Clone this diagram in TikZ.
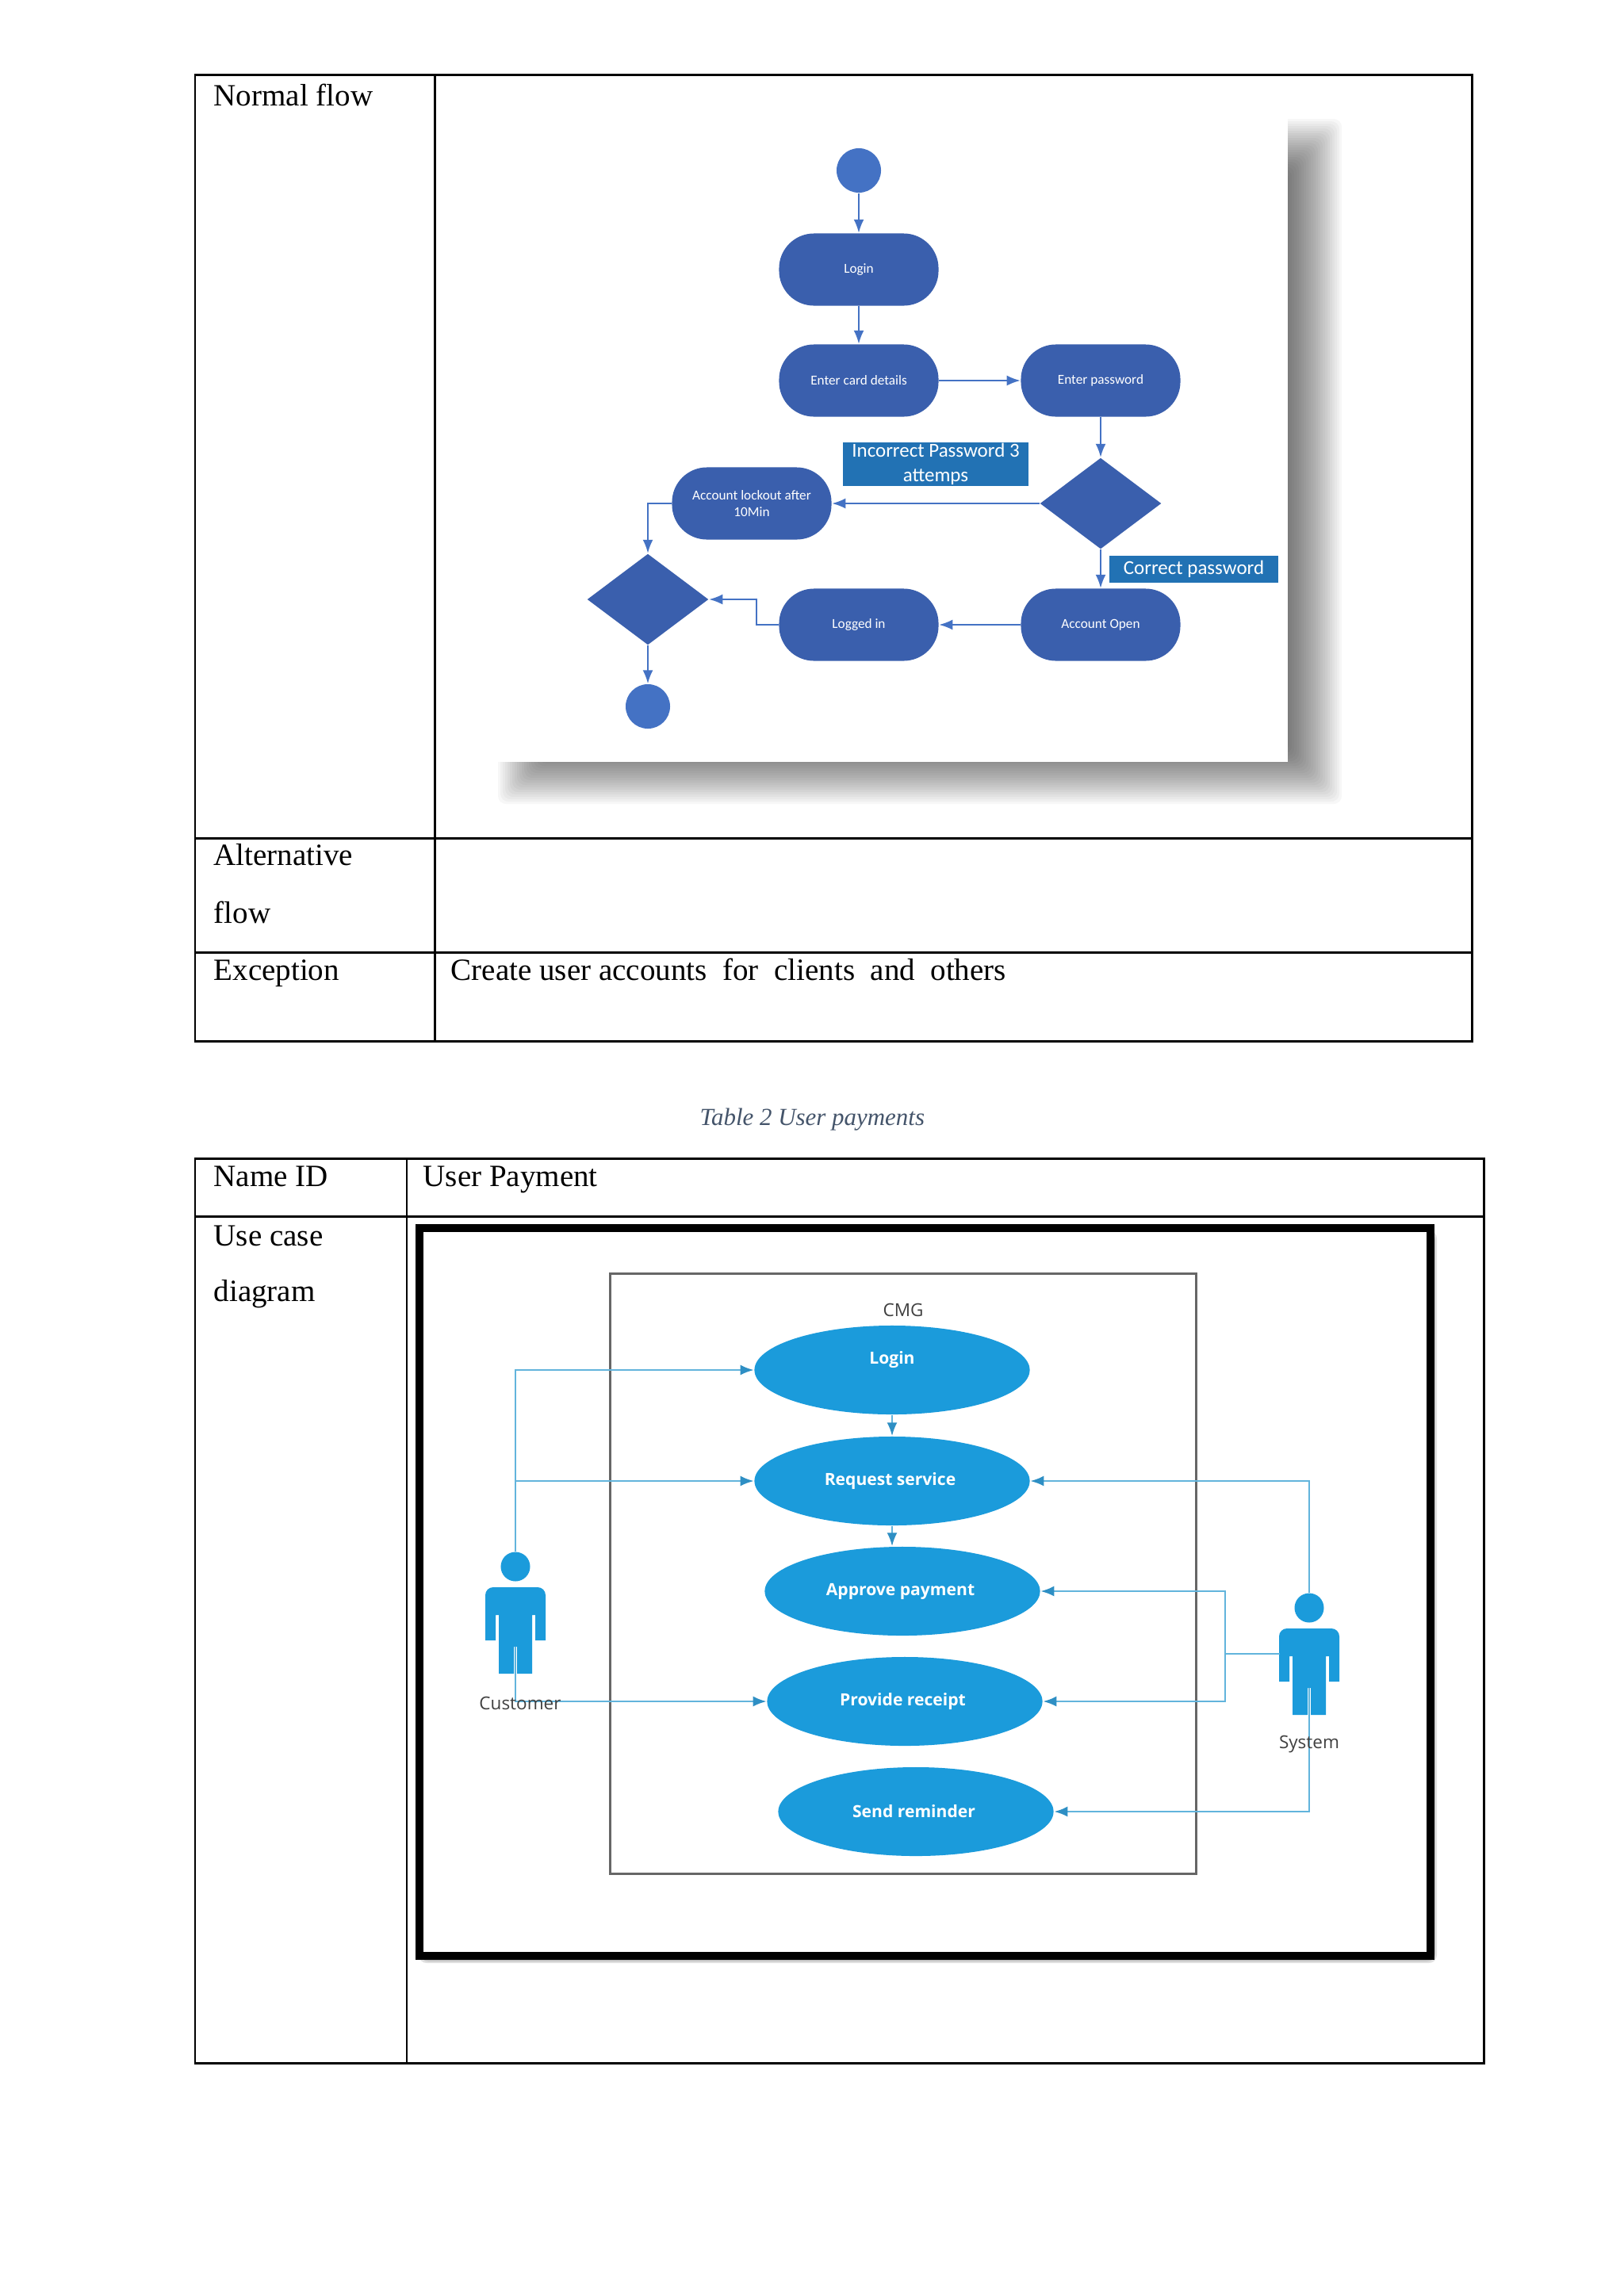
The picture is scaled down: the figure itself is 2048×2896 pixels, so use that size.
\documentclass[tikz,border=0pt]{standalone}
\usepackage{fontspec}
\setmainfont{Liberation Serif}
\newfontfamily\flowfont{Carlito}
\newfontfamily\casefont{Open Sans}
\usetikzlibrary{arrows.meta,shapes.geometric}
\definecolor{flowblue}{HTML}{3A5FAD}
\definecolor{startblue}{HTML}{4472C4}
\definecolor{tagblue}{HTML}{2272B4}
\definecolor{caseblue}{HTML}{1B9BDB}
\definecolor{caseline}{HTML}{62B4DC}
\definecolor{casetip}{HTML}{2E8FC4}
\definecolor{capgray}{HTML}{44546A}
\tikzset{
  tablerule/.style={line width=0.85pt, black},
  celltext/.style={anchor=base west, inner sep=0pt, font=\fontsize{11.1}{13}\selectfont},
  flowbox/.style={rectangle, rounded corners=0.44cm, fill=flowblue, minimum width=2.01cm, minimum height=0.91cm, inner sep=0pt, align=center, text=white, font=\flowfont\fontsize{4.9}{6.2}\selectfont},
  flowdec/.style={diamond, fill=flowblue, minimum width=1.53cm, minimum height=1.15cm, inner sep=0pt},
  flowdot/.style={circle, fill=startblue, minimum size=0.56cm, inner sep=0pt},
  flowtag/.style={rectangle, fill=tagblue, inner sep=0pt, align=center, text=white, font=\flowfont\fontsize{7.1}{8.9}\selectfont},
  flowarrow/.style={->, line width=0.6pt, startblue},
  usecase/.style={ellipse, fill=caseblue, minimum width=3.47cm, minimum height=1.12cm, inner sep=0pt, text=white, font=\casefont\bfseries\fontsize{6}{7.5}\selectfont},
  caseface/.style={circle, fill=caseblue, minimum size=0.37cm, inner sep=0pt},
  casearrow/.style={-{Latex[length=0.17cm,width=0.13cm,color=casetip]}, line width=0.7pt, caseline},
  casetext/.style={inner sep=0pt, text=black!75, font=\casefont\fontsize{6.4}{7.5}\selectfont},
}
% soft shadow: stacked rectangles, each one inset a little more
\newcommand{\softshadow}[7]{%
  \foreach \i in {0,...,#5}{
    \fill[black, opacity=#6, rounded corners=0.1cm] ({#1+#7*\i},{#2+#7*\i}) rectangle ({#3-#7*\i},{#4-#7*\i});
  }}
% actor figure below its head
\newcommand{\actorbody}[2]{%
  \begin{scope}[shift={(#1,#2)}]
    \fill[caseblue] (-38,20) [rounded corners=0.1cm] -- (-38,0) -- (38,0) -- (38,20) [sharp corners] -- (38,67) -- (25,67) -- (25,35) -- (21,35) -- (21,109) -- (2,109) -- (2,75) -- (-2,75) -- (-2,109) -- (-21,109) -- (-21,35) -- (-25,35) -- (-25,67) -- (-38,67) -- cycle;
  \end{scope}}
\begin{document}
\begin{tikzpicture}[x=0.01cm, y=-0.01cm, >={Latex[length=0.17cm,width=0.13cm]}]
\useasboundingbox (0,0) rectangle (2048,2896);

% first table
\draw[tablerule] (246,94) rectangle (1856,1313);
\draw[tablerule] (246,1057) -- (1856,1057);
\draw[tablerule] (246,1201) -- (1856,1201);
\draw[tablerule] (548,94) -- (548,1313);
\node[celltext] at (269,133) {Normal flow};
\node[celltext] at (269,1091) {Alternative};
\node[celltext] at (269,1164) {flow};
\node[celltext] at (269,1236) {Exception};
\node[celltext] at (568,1236) {Create user accounts~ for~ clients~ and~ others};

% activity picture
\softshadow{628}{150}{1692}{1014}{22}{0.032}{3}
\fill[white] (604,135) rectangle (1624,961);
\node[flowdot] (start) at (1083,215) {};
\node[flowbox] (login) at (1083,340) {Login};
\node[flowbox] (card) at (1083,480) {Enter card details};
\node[flowbox] (pass) at (1388,480) {Enter password};
\node[flowdec] (check) at (1388,635) {};
\node[flowbox] (lockout) at (948,635) {Account lockout after\\10Min};
\node[flowdec] (merge) at (817,756) {};
\node[flowbox] (logged) at (1083,788) {Logged in};
\node[flowbox] (open) at (1388,788) {Account Open};
\node[flowdot] (finish) at (817,891) {};
\node[flowtag, minimum width=2.34cm, minimum height=0.55cm] (wrongtag) at (1180,585.5) {Incorrect Password 3\\attemps};
\node[flowtag, minimum width=2.13cm, minimum height=0.34cm] (righttag) at (1505.5,718) {Correct password};
\draw[flowarrow] (start) -- (login);
\draw[flowarrow] (login) -- (card);
\draw[flowarrow] (card) -- (pass);
\draw[flowarrow] (pass) -- (check);
\draw[flowarrow] (check) -- (lockout);
\draw[flowarrow] (check) -- (open);
\draw[flowarrow] (open) -- (logged);
\draw[flowarrow] (lockout.west) -| (merge.north);
\draw[flowarrow] (logged.west) -- ++(-28,0) |- (merge.east);
\draw[flowarrow] (merge) -- (finish);

% second table
\node[inner sep=0pt, anchor=base west, text=capgray, font=\itshape\fontsize{8.8}{11}\selectfont] at (882,1419) {Table 2 User payments};
\draw[tablerule] (246,1461) rectangle (1871,2602);
\draw[tablerule] (246,1534) -- (1871,1534);
\draw[tablerule] (513,1461) -- (513,2602);
\node[celltext] at (269,1496) {Name ID};
\node[celltext] at (533,1496) {User Payment};
\node[celltext] at (269,1571) {Use case};
\node[celltext] at (269,1641) {diagram};

% use case picture
\softshadow{528}{1552}{1812}{2476}{3}{0.12}{2}
\draw[line width=0.1cm, black, fill=white] (529,1549) rectangle (1804,2467);
\draw[line width=0.85pt, black!60] (769,1606) rectangle (1508,2363);
\node[casetext] (cmg) at (1139,1652) {CMG};
\node[usecase] (ulogin) at (1125,1728) {\raisebox{0.32cm}{Login}};
\node[usecase] (request) at (1125,1868) {Request service\hspace*{0.05cm}};
\node[usecase] (approve) at (1138,2007) {Approve payment\hspace*{0.05cm}};
\node[usecase] (receipt) at (1141,2146) {Provide receipt\hspace*{0.05cm}};
\node[usecase] (remind) at (1155,2285) {Send reminder\hspace*{0.05cm}};
\actorbody{650}{2002}
\actorbody{1651}{2054}
\node[caseface] (custhead) at (650,1976) {};
\node[caseface] (syshead) at (1651,2028) {};
\coordinate (custfoot) at (650,2077);
\coordinate (sysfoot) at (1651,2129);
\coordinate (sysarm) at (1614,2086);
\draw[casearrow] (custhead.north) |- (ulogin.west);
\draw[casearrow] (custhead.north) |- (request.west);
\draw[casearrow] (custfoot) |- (receipt.west);
\draw[casearrow] (syshead.north) |- (request.east);
\draw[casearrow] (sysarm) -- ++(-69,0) |- (approve.east);
\draw[casearrow] (sysarm) -- ++(-69,0) |- (receipt.east);
\draw[casearrow] (sysfoot) |- (remind.east);
\draw[casearrow] (ulogin.south) -- (request.north);
\draw[casearrow] (request.south) -- (request.south |- approve.north);
\node[casetext] (custname) at (656,2148) {Customer};
\node[casetext] (sysname) at (1651,2200) {System};
\end{tikzpicture}
\end{document}
